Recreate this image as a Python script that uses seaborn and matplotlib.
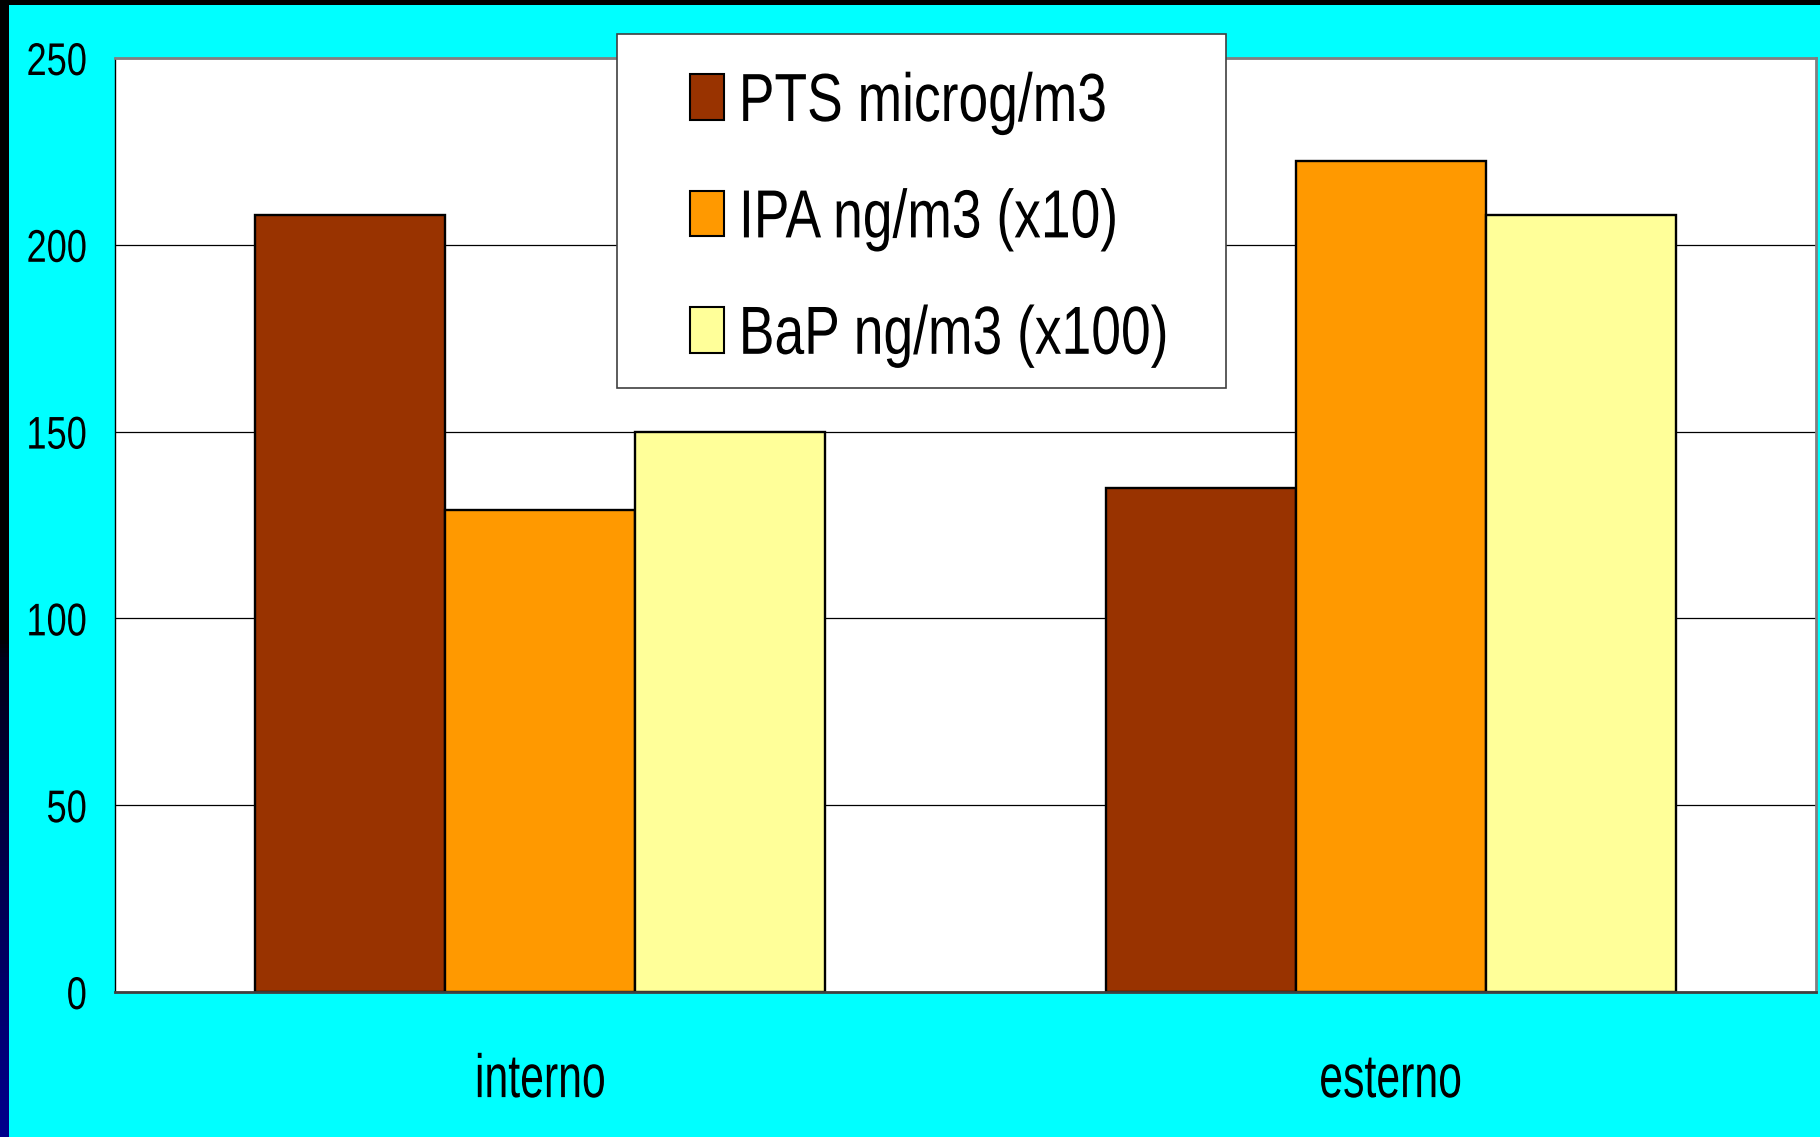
import numpy as np
import pandas as pd
import matplotlib
matplotlib.use("Agg")
import matplotlib.pyplot as plt
from matplotlib.patches import Patch, Rectangle
from matplotlib.colors import LinearSegmentedColormap
from matplotlib.legend_handler import HandlerPatch
from matplotlib.patheffects import AbstractPathEffect
from matplotlib.transforms import Affine2D
import seaborn as sns

# Sampling sites and measured parameters
siti = ["interno", "esterno"]
parametri = ["PTS microg/m3", "IPA ng/m3 (x10)", "BaP ng/m3 (x100)"]
pts = [208, 135]
ipa = [129, 222.5]
bap = [150, 208]
colori = ["#993300", "#FF9900", "#FFFF99"]
yticks = [0, 50, 100, 150, 200, 250]

df = pd.DataFrame({
    "sito": siti * 3,
    "parametro": [p for p in parametri for _ in siti],
    "valore": pts + ipa + bap,
})


class Narrow(AbstractPathEffect):
    """Draw text glyphs horizontally condensed (Arial Narrow look)."""

    def __init__(self, sx=0.8, anchor=0.0):
        super().__init__()
        self.sx = sx
        self.anchor = anchor

    def draw_path(self, renderer, gc, tpath, affine, rgbFace=None):
        ext = tpath.get_extents()
        x0 = ext.x0 + self.anchor * ext.width
        t = Affine2D().translate(-x0, 0).scale(self.sx, 1).translate(x0, 0) + affine
        renderer.draw_path(gc, tpath, t, rgbFace)


sns.set_style("white")
plt.rcParams["font.family"] = ["Liberation Sans", "DejaVu Sans"]
plt.rcParams["text.color"] = "black"

W, H = 1820, 1137
fig = plt.figure(figsize=(W / 100, H / 100), dpi=100)
fig.patch.set_facecolor("#00FFFF")

# dark frame: black strip on top, black-to-navy strip on the left
fig.add_artist(Rectangle((0, 1 - 5 / H), 1, 5 / H, transform=fig.transFigure,
                         facecolor="black", edgecolor="none", zorder=0))
strip = fig.add_axes([0, 0, 9 / W, 1])
cmap = LinearSegmentedColormap.from_list(
    "strip", [(0, "black"), (0.56, "black"), (0.58, "#000018"), (1, "#00008C")])
strip.imshow(np.linspace(0, 1, 256).reshape(-1, 1), aspect="auto", cmap=cmap)
strip.set_axis_off()

left, right, top, bottom = 115, 1816, 58, 992
ax = fig.add_axes([left / W, 1 - bottom / H, (right - left) / W, (bottom - top) / H])
ax.set_facecolor("white")

sns.barplot(data=df, x="sito", y="valore", hue="parametro", hue_order=parametri,
            palette=colori, saturation=1, width=0.67, edgecolor="black",
            linewidth=1.7, legend=False, ax=ax, zorder=3)

ax.set_ylim(0, 250)
ax.set_xlim(-0.5, 1.5)
ax.set_yticks(yticks)
ax.set_yticklabels([str(v) for v in yticks])
ax.yaxis.grid(True, color="black", linewidth=0.9, zorder=0)
ax.set_axisbelow(True)

# ticks at the category boundaries, labels centred under each group
ax.set_xticks([-0.5, 0.5, 1.5])
ax.set_xticklabels(["", "", ""])
ax.set_xticks([0, 1], minor=True)
ax.set_xticklabels(siti, minor=True)
ax.tick_params(axis="x", which="major", direction="out", length=13, width=1, color="black")
ax.tick_params(axis="x", which="minor", length=0, pad=44, labelsize=44, labelcolor="black")
ax.tick_params(axis="y", direction="out", length=8, width=1, color="black",
               pad=12, labelsize=33, labelcolor="black")
ax.set_xlabel("")
ax.set_ylabel("")

for lbl in ax.get_yticklabels():
    lbl.set_path_effects([Narrow(0.79, anchor=1.0)])
for lbl in ax.get_xticklabels(minor=True):
    lbl.set_path_effects([Narrow(0.7, anchor=0.5)])

for s in ["top", "right"]:
    ax.spines[s].set_color("#808080")
    ax.spines[s].set_linewidth(2)
ax.spines["left"].set_color("black")
ax.spines["left"].set_linewidth(1)
ax.spines["bottom"].set_color("#404040")
ax.spines["bottom"].set_linewidth(2)
for s in ax.spines.values():
    s.set_zorder(4)

# legend box
fig.add_artist(Rectangle((617 / W, 1 - 388 / H), (1226 - 617) / W, (388 - 34) / H,
                         transform=fig.transFigure, facecolor="white",
                         edgecolor="#404040", linewidth=1.2, zorder=5))

handles = [Patch(facecolor=c, edgecolor="black", linewidth=1.5) for c in colori]
leg = fig.legend(handles, parametri, loc="upper left",
                 bbox_to_anchor=(690 / W, 1 - 71 / H), bbox_transform=fig.transFigure,
                 fontsize=49, frameon=False,
                 handler_map={Patch: HandlerPatch()},
                 handlelength=0.5, handleheight=0.66, handletextpad=0.2,
                 labelspacing=0.77, borderpad=0, borderaxespad=0)
for t in leg.get_texts():
    t.set_color("black")
    t.set_path_effects([Narrow(0.785, anchor=0.0)])
leg.set_zorder(6)

fig.savefig("out.png", dpi=100, facecolor=fig.get_facecolor())
